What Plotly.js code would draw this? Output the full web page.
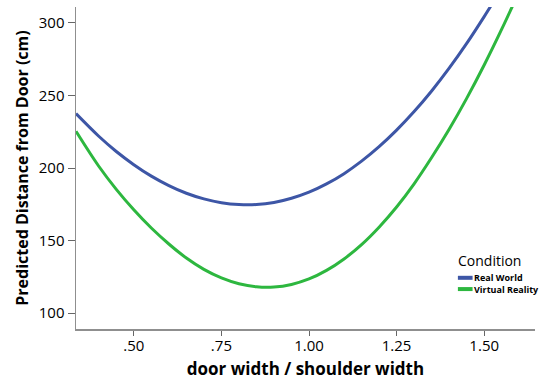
<!DOCTYPE html>
<html>
<head>
<meta charset="utf-8">
<script src="https://cdn.plot.ly/plotly-3.0.1.min.js"></script>
<style>html,body{margin:0;padding:0;background:#fff;}#chart{width:540px;height:383px;}</style>
</head>
<body>
<div id="chart"></div>
<script>
var seriesNames = ["Real World", "Virtual Reality"];
var seriesColors = ["#3d56a6", "#2db73f"];
var legendTitle = "Condition";
var realWorldX = [0.335,0.40,0.45,0.50,0.55,0.60,0.65,0.70,0.75,0.80,0.85,0.90,0.95,1.00,1.05,1.10,1.15,1.20,1.25,1.30,1.35,1.40,1.45,1.50,1.53];
var realWorldY = [237.5,221.9,211.4,202.3,194.4,187.9,182.6,178.7,176.1,174.8,174.8,176.2,179.1,183.3,189,196.1,204.7,214.7,226.1,238.9,253.1,268.8,285.9,304.4,316];
var virtualX = [0.335,0.40,0.45,0.50,0.55,0.60,0.65,0.70,0.75,0.80,0.85,0.90,0.95,1.00,1.05,1.10,1.15,1.20,1.25,1.30,1.35,1.40,1.45,1.50,1.55,1.59];
var virtualY = [225.3,201.2,185.3,171.2,158.6,147.6,137.9,130.1,124.2,120.2,118.1,117.9,119.7,123.5,129.4,137.3,147.2,159.2,173.1,189.1,207.2,226.7,248.0,271.0,295.7,316.5];
var xTickVals = [0.5,0.75,1.0,1.25,1.5];
var xTickText = [".50",".75","1.00","1.25","1.50"];
var yTickVals = [100,150,200,250,300];

var font = "'Open Sans', 'Liberation Sans', sans-serif";
var traces = [
  {x: realWorldX, y: realWorldY, name: seriesNames[0], mode: "lines", line: {color: seriesColors[0], width: 3, shape: "spline", smoothing: 1}},
  {x: virtualX, y: virtualY, name: seriesNames[1], mode: "lines", line: {color: seriesColors[1], width: 3, shape: "spline", smoothing: 1}}
];

// Legend drawn in paper coordinates (title, swatches, labels)
var legX = 0.832, legTextX = 0.866;
var legRowsY = [0.159, 0.124];
var annotations = [{
  xref: "paper", yref: "paper", x: legX - 0.004, y: 0.214, xanchor: "left", yanchor: "middle",
  text: legendTitle, showarrow: false, font: {size: 14, family: font, color: "#000"}
}, {
  xref: "paper", yref: "paper", x: legTextX - 0.004, y: (legRowsY[0] + legRowsY[1]) / 2, xanchor: "left", yanchor: "middle",
  align: "left",
  text: seriesNames.map(function (n) { return "<b>" + n + "</b>"; }).join("<br>"),
  showarrow: false, font: {size: 9, family: font, color: "#000"}
}];
var shapes = seriesNames.map(function (n, i) {
  return {
    type: "line", xref: "paper", yref: "paper", x0: legX, x1: legTextX - 0.002, y0: legRowsY[i], y1: legRowsY[i],
    line: {color: seriesColors[i], width: 4}
  };
});

var layout = {
  width: 540, height: 383,
  margin: {l: 76, r: 5, t: 7, b: 54, autoexpand: false},
  paper_bgcolor: "#fff", plot_bgcolor: "#fff",
  font: {family: font, color: "#000", size: 14},
  showlegend: false,
  xaxis: {
    range: [0.335, 1.645], tickvals: xTickVals, ticktext: xTickText,
    showgrid: false, zeroline: false, showline: true, linecolor: "#8f8f8f", linewidth: 1.5,
    ticks: "outside", ticklen: 5, tickcolor: "#666", tickwidth: 1,
    tickfont: {size: 15, family: font}, ticklabelstandoff: -3,
    title: {text: "<b>door width / shoulder width</b>", font: {size: 17, family: font}, standoff: 9}
  },
  yaxis: {
    range: [89, 311], tickvals: yTickVals,
    showgrid: false, zeroline: false, showline: true, linecolor: "#8f8f8f", linewidth: 1.5,
    ticks: "outside", ticklen: 7, tickcolor: "#666", tickwidth: 1,
    tickfont: {size: 15, family: font},
    title: {text: "<b>Predicted Distance from Door (cm)</b>", font: {size: 16, family: font}, standoff: 6}
  },
  annotations: annotations,
  shapes: shapes
};
Plotly.newPlot("chart", traces, layout, {displayModeBar: false, staticPlot: true});
</script>
</body>
</html>
